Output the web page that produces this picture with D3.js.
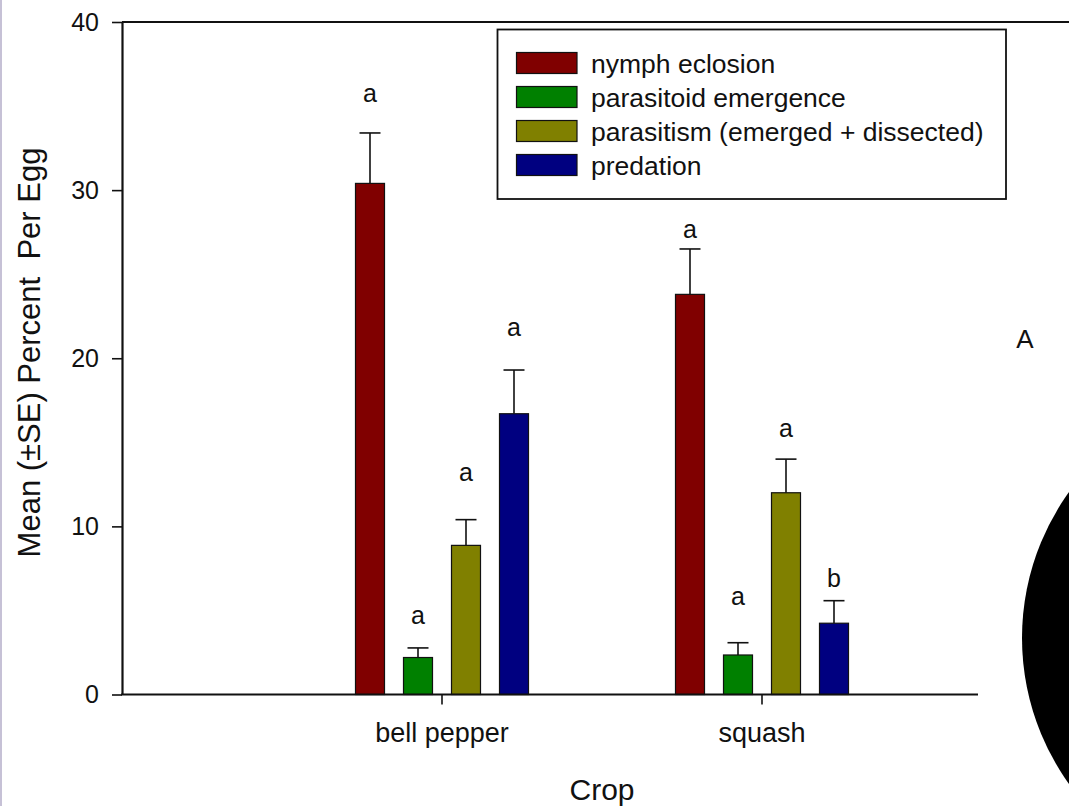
<!DOCTYPE html>
<html>
<head>
<meta charset="utf-8">
<script src="https://cdn.jsdelivr.net/npm/d3@7"></script>
<style>
  html, body { margin: 0; padding: 0; background: #fff; }
  svg { display: block; font-family: "Liberation Sans", Arial, sans-serif; }
  text { white-space: pre; }
</style>
</head>
<body>
<svg id="chart" width="1069" height="806"></svg>
<script>
// Crops on the x axis
const crops = ["bell pepper", "squash"];
// Outcome series (legend order)
const series = ["nymph eclosion", "parasitoid emergence", "parasitism (emerged + dissected)", "predation"];
const seriesColors = ["#800000", "#008000", "#808000", "#000080"];
// Mean percent per egg, one array per series: [bell pepper, squash]
const nymphEclosion = [30.4, 23.8];
const parasitoidEmergence = [2.2, 2.35];
const parasitism = [8.87, 12.0];
const predation = [16.7, 4.24];
// Standard errors, same layout
const nymphEclosionSE = [3.0, 2.7];
const parasitoidEmergenceSE = [0.57, 0.73];
const parasitismSE = [1.53, 2.0];
const predationSE = [2.6, 1.34];
// Significance letters and the height (in percent units) at which each is written
const nymphEclosionLetter = ["a", "a"];
const parasitoidEmergenceLetter = ["a", "a"];
const parasitismLetter = ["a", "a"];
const predationLetter = ["a", "b"];
const nymphEclosionLetterAt = [35.27, 27.16];
const parasitoidEmergenceLetterAt = [4.19, 5.32];
const parasitismLetterAt = [12.72, 15.32];
const predationLetterAt = [21.33, 6.41];
// Axis ticks
const yTicks = [0, 10, 20, 30, 40];

const means = [nymphEclosion, parasitoidEmergence, parasitism, predation];
const ses = [nymphEclosionSE, parasitoidEmergenceSE, parasitismSE, predationSE];
const letters = [nymphEclosionLetter, parasitoidEmergenceLetter, parasitismLetter, predationLetter];
const lettersAt = [nymphEclosionLetterAt, parasitoidEmergenceLetterAt, parasitismLetterAt, predationLetterAt];

const rows = [];
series.forEach((s, si) => crops.forEach((c, ci) => rows.push({
  crop: c, series: s, color: seriesColors[si],
  mean: means[si][ci], se: ses[si][ci],
  letter: letters[si][ci], letterAt: lettersAt[si][ci]
})));

const svg = d3.select("#chart");
const plotLeft = 122, plotTop = 22, plotBottom = 694.5;

// thin tinted strip on the left edge of the page
svg.append("rect").attr("x", 0).attr("y", 0).attr("width", 2).attr("height", 806).attr("fill", "#c6c1d6");

const y = d3.scaleLinear().domain([0, 40]).range([plotBottom, plotTop]);
const x = d3.scaleBand().domain(crops).range([plotLeft, plotLeft + 960]).paddingInner(0).paddingOuter(0.5);
const xs = d3.scaleBand().domain(series).range([-96, 96]).paddingInner(19 / 48).paddingOuter(19 / 96);

// frame: top line
svg.append("line").attr("x1", plotLeft).attr("x2", 1069).attr("y1", plotTop).attr("y2", plotTop)
  .attr("stroke", "#111").attr("stroke-width", 2.2);

// bars
const g = svg.append("g");
g.selectAll("rect.bar").data(rows).join("rect")
  .attr("class", "bar")
  .attr("x", d => x(d.crop) + x.bandwidth() / 2 + xs(d.series))
  .attr("width", xs.bandwidth())
  .attr("y", d => y(d.mean))
  .attr("height", d => y(0) - y(d.mean))
  .attr("fill", d => d.color)
  .attr("stroke", "#111").attr("stroke-width", 1.2);

// error bars (upper only)
const cx = d => x(d.crop) + x.bandwidth() / 2 + xs(d.series) + xs.bandwidth() / 2;
g.selectAll("line.err").data(rows).join("line")
  .attr("class", "err")
  .attr("x1", cx).attr("x2", cx)
  .attr("y1", d => y(d.mean)).attr("y2", d => y(d.mean + d.se))
  .attr("stroke", "#111").attr("stroke-width", 1.6);
g.selectAll("line.cap").data(rows).join("line")
  .attr("class", "cap")
  .attr("x1", d => cx(d) - 10.5).attr("x2", d => cx(d) + 10.5)
  .attr("y1", d => y(d.mean + d.se)).attr("y2", d => y(d.mean + d.se))
  .attr("stroke", "#111").attr("stroke-width", 1.6);

// significance letters
g.selectAll("text.letter").data(rows).join("text")
  .attr("class", "letter")
  .attr("x", cx).attr("y", d => y(d.letterAt))
  .attr("text-anchor", "middle")
  .attr("font-size", 25).attr("fill", "#111")
  .text(d => d.letter);

// y axis
const yAxis = svg.append("g").attr("transform", `translate(${plotLeft},0)`)
  .call(d3.axisLeft(y).tickValues(yTicks).tickSize(10).tickSizeOuter(0).tickPadding(13));
yAxis.select(".domain").attr("stroke", "#111").attr("stroke-width", 2.2);
yAxis.selectAll(".tick line").attr("stroke", "#111").attr("stroke-width", 1.6);
yAxis.selectAll(".tick text").attr("font-size", 25).attr("fill", "#111")
  .attr("font-family", "Liberation Sans, Arial, sans-serif");

// x axis: baseline stops where the panel is cut
svg.append("line").attr("x1", plotLeft - 1).attr("x2", 978).attr("y1", plotBottom).attr("y2", plotBottom)
  .attr("stroke", "#111").attr("stroke-width", 2.2);
const xAxis = svg.append("g").attr("transform", `translate(0,${plotBottom})`)
  .call(d3.axisBottom(x).tickSize(10).tickSizeOuter(0).tickPadding(0));
xAxis.select(".domain").remove();
xAxis.selectAll(".tick line").attr("stroke", "#111").attr("stroke-width", 1.6);
xAxis.selectAll(".tick text").attr("font-size", 27).attr("fill", "#111")
  .attr("font-family", "Liberation Sans, Arial, sans-serif")
  .attr("dy", null).attr("y", 47);

// axis titles
svg.append("text").attr("x", 602).attr("y", 800).attr("text-anchor", "middle")
  .attr("font-size", 30).attr("fill", "#111").text("Crop");
svg.append("text").attr("transform", "translate(39.5,352.5) rotate(-90)")
  .attr("text-anchor", "middle").attr("font-size", 31).attr("fill", "#111")
  .text("Mean (±SE) Percent  Per Egg");

// legend
const lg = svg.append("g");
lg.append("rect").attr("x", 497.5).attr("y", 29.5).attr("width", 508.5).attr("height", 169.5)
  .attr("fill", "#fff").attr("stroke", "#111").attr("stroke-width", 1.8);
const legendRow = d3.scaleBand().domain(series).range([46, 182]);
const item = lg.selectAll("g.item").data(series).join("g").attr("class", "item")
  .attr("transform", d => `translate(0,${legendRow(d) + legendRow.bandwidth() / 2})`);
item.append("rect").attr("x", 516.5).attr("y", -10.5).attr("width", 60.5).attr("height", 21)
  .attr("fill", (d, i) => seriesColors[i]).attr("stroke", "#111").attr("stroke-width", 1.2);
item.append("text").attr("x", 591).attr("y", 10).attr("font-size", 26.5).attr("fill", "#111").text(d => d);

// panel letter
svg.append("text").attr("x", 1025).attr("y", 348).attr("text-anchor", "middle")
  .attr("font-size", 26).attr("fill", "#111").text("A");

// dark disc from the neighbouring panel
svg.append("circle").attr("cx", 1272).attr("cy", 638).attr("r", 250).attr("fill", "#000");
</script>
</body>
</html>
